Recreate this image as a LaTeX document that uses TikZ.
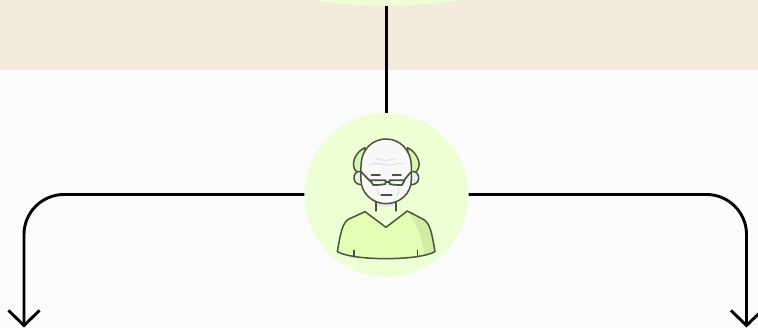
\documentclass[tikz,border=0pt]{standalone}
\usetikzlibrary{arrows.meta,shapes.geometric}
\definecolor{bandc}{HTML}{F3EBDC}
\definecolor{pagec}{HTML}{FBFBFB}
\definecolor{discc}{HTML}{EEFFD6}
\definecolor{bodyc}{HTML}{E4FFB5}
\definecolor{shadec}{HTML}{D2EBA5}
\definecolor{hairc}{HTML}{DAF5AE}
\definecolor{inkc}{HTML}{46563A}
\definecolor{skinc}{HTML}{F8F8F8}
\definecolor{neckc}{HTML}{E6E8E2}
\definecolor{earc}{HTML}{EDEFEA}
\definecolor{wrinkc}{HTML}{DEE0DA}
\tikzset{
  disc/.style={circle,fill=discc,inner sep=0pt,minimum size=164pt},
  topdisc/.style={ellipse,fill=discc,inner sep=0pt,minimum width=198pt,minimum height=33.6pt},
  conn/.style={draw=black,line width=2.9pt,rounded corners=40pt},
  arrowed/.style={conn,-{Straight Barb[length=15pt,width=31pt,line width=2.9pt]}},
  ink/.style={draw=inkc,line width=1.5pt,line join=round,line cap=round},
  wrinkle/.style={draw=wrinkc,line width=1.1pt,line cap=round}
}
\begin{document}
\begin{tikzpicture}[x=1pt,y=-1pt]
\useasboundingbox (0,0) rectangle (758,328);
\fill[pagec] (0,0) rectangle (758,328);
\fill[bandc] (0,0) rectangle (758,70);
\node[topdisc] (top) at (386.5,-11.3) {};
\node[disc] (man) at (386.5,195) {};
\coordinate (leftend) at (24,327.5);
\coordinate (rightend) at (746.5,327.5);
\draw[conn] (top.south) -- (man.north);
\draw[arrowed] ([yshift=0.5pt]man.west) -| (leftend);
\draw[arrowed] ([yshift=0.5pt]man.east) -| (rightend);
\begin{scope}[shift={(320,125)},x=0.3333pt,y=-0.3333pt]
 % hair
 \draw[ink,fill=hairc] (135,68) .. controls (108,80) and (96,110) .. (102,128) .. controls (106,142) and (118,146) .. (128,140) -- cycle;
 \draw[ink,fill=hairc] (262,68) .. controls (288,80) and (302,110) .. (296,128) .. controls (292,142) and (280,146) .. (270,140) -- cycle;
 % ears
 \draw[ink,fill=earc] (125,140) .. controls (108,135) and (100,150) .. (102,162) .. controls (104,175) and (118,182) .. (130,178) -- cycle;
 \draw[ink,fill=earc] (272,140) .. controls (288,135) and (298,150) .. (296,162) .. controls (294,175) and (280,182) .. (268,178) -- cycle;
 % neck
 \fill[neckc] (168,225) rectangle (228,246);
 \fill[discc] (168,246) rectangle (228,262);
 \draw[ink] (168,228) -- (168,258) (228,228) -- (228,258);
 % body
 \fill[bodyc] (135,260) -- (85,283) .. controls (68,295) and (62,320) .. (52,380)
   .. controls (100,408) and (295,408) .. (345,380)
   .. controls (335,320) and (330,295) .. (310,283) -- (262,258) -- (198,307) -- cycle;
 \fill[shadec] (264,262) -- (310,284) .. controls (330,295) and (335,320) .. (344,380) .. controls (335,385) and (322,389) .. (312,391) .. controls (310,340) and (290,295) .. (264,262) -- cycle;
 \fill[discc] (150,262) -- (246,262) -- (198,298) -- cycle;
 \draw[ink] (135,260) -- (85,283) .. controls (68,295) and (62,320) .. (52,380)
   .. controls (100,408) and (295,408) .. (345,380)
   .. controls (335,320) and (330,295) .. (310,283) -- (262,258) -- (198,307) -- cycle;
 \draw[ink] (102,376) -- (102,396) (292,376) -- (292,396);
 % head
 \draw[ink,fill=skinc] (123,125) .. controls (123,70) and (160,42) .. (198,42)
   .. controls (240,42) and (274,75) .. (274,125) -- (274,165)
   .. controls (274,205) and (240,236) .. (198,236)
   .. controls (158,236) and (123,205) .. (123,165) -- cycle;
 % wrinkles
 \draw[wrinkle] (168,100) .. controls (185,108) and (205,108) .. (225,101);
 \draw[wrinkle] (148,120) .. controls (165,110) and (185,118) .. (200,120) .. controls (220,122) and (235,112) .. (250,116);
 \draw[wrinkle] (172,190) .. controls (170,197) and (173,205) .. (178,212);
 \draw[wrinkle] (236,190) .. controls (238,197) and (235,205) .. (230,212);
 % face
 \draw[ink,line width=1.7pt] (155,151) -- (180,151) (218,151) -- (243,151) (184,211) -- (215,211);
 \draw[ink,line width=1.7pt] (125,142) -- (150,168) (272,142) -- (250,168);
 \draw[ink,line width=1.7pt,fill=skinc] (150,166) -- (197,166) -- (196,177) .. controls (185,180) and (170,180) .. (160,180) -- cycle;
 \draw[ink,line width=1.7pt,fill=skinc] (208,166) -- (254,166) -- (246,180) .. controls (235,180) and (220,180) .. (209,177) -- cycle;
 \draw[ink,line width=1.7pt] (197,170) -- (208,170);
\end{scope}
\end{tikzpicture}
\end{document}
